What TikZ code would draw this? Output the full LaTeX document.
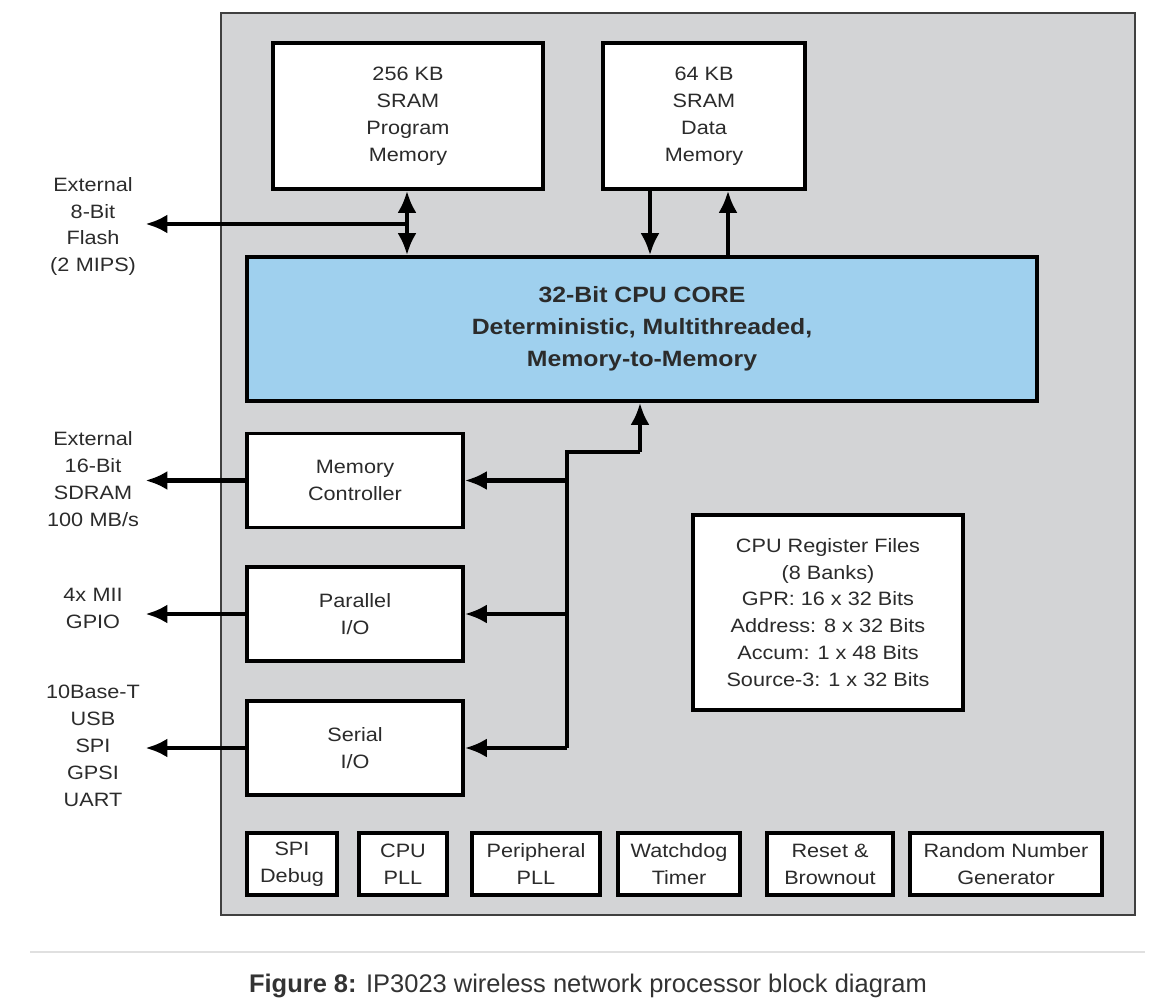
\documentclass[tikz,border=0pt]{standalone}
\usepackage{fontspec}
\setmainfont{Liberation Sans}[FakeStretch=1.12]
\newfontfamily\capfont{Liberation Sans}
\usetikzlibrary{arrows.meta}
\definecolor{panelgray}{HTML}{D3D4D6}
\definecolor{coreblue}{HTML}{9FD0EE}
\definecolor{inkgray}{HTML}{2B2B2B}
\tikzset{
  blk/.style={draw=black, line width=2pt, fill=white, align=center, inner sep=0pt,
    text=inkgray, font=\fontsize{11}{15.3}\selectfont},
  lbl/.style={align=center, text width=2.08cm, inner sep=0pt,
    text=inkgray, font=\fontsize{11}{15.3}\selectfont},
  sig/.style={line width=2.8pt, -{Latex[length=0.44cm,width=0.38cm]}},
  sigboth/.style={line width=2.8pt, {Latex[length=0.44cm,width=0.38cm]}-{Latex[length=0.44cm,width=0.38cm]}},
}
\begin{document}
\begin{tikzpicture}
      \useasboundingbox (0,0) rectangle (23.38,-20.04);
      % Chip
      \filldraw[fill=panelgray, draw=black!75, line width=1.2pt] (4.42,-0.26) rectangle (22.70,-18.30);

      % Memorias
      \node[blk, minimum width=5.40cm, minimum height=2.92cm] (pmem) at (8.16,-2.32) {256 KB\\SRAM\\Program\\Memory};
      \node[blk, minimum width=4.04cm, minimum height=2.92cm] (dmem) at (14.08,-2.32) {64 KB\\SRAM\\Data\\Memory};

      % CPU
      \node[blk, fill=coreblue, minimum width=15.80cm, minimum height=2.88cm,
            font=\bfseries\fontsize{12.6}{18.1}\selectfont] (cpu) at (12.84,-6.58)
            {32-Bit CPU CORE\\Deterministic, Multithreaded,\\Memory-to-Memory};

      % Entrada/saida
      \node[blk, minimum width=4.32cm, minimum height=1.88cm] (mc)  at (7.10,-9.61)  {Memory\\Controller};
      \node[blk, minimum width=4.32cm, minimum height=1.88cm] (pio) at (7.10,-12.28) {Parallel\\I/O};
      \node[blk, minimum width=4.32cm, minimum height=1.88cm] (sio) at (7.10,-14.96) {Serial\\I/O};

      \node[blk, minimum width=5.40cm, minimum height=3.90cm] (regs) at (16.56,-12.25)
            {CPU Register Files\\(8 Banks)\\GPR: 16 x 32 Bits\\Address: 8 x 32 Bits\\Accum: 1 x 48 Bits\\Source-3: 1 x 32 Bits};

      % Blocos de baixo
      \node[blk, minimum width=1.80cm, minimum height=1.24cm] (spi)  at (5.84,-17.28)  {SPI\\Debug};
      \node[blk, minimum width=1.76cm, minimum height=1.24cm] (cpll) at (8.06,-17.28)  {CPU\\PLL};
      \node[blk, minimum width=2.56cm, minimum height=1.24cm] (ppll) at (10.72,-17.28) {Peripheral\\PLL};
      \node[blk, minimum width=2.44cm, minimum height=1.24cm] (wdt)  at (13.58,-17.28) {Watchdog\\Timer};
      \node[blk, minimum width=2.52cm, minimum height=1.24cm] (rst)  at (16.60,-17.28) {Reset \&\\Brownout};
      \node[blk, minimum width=3.84cm, minimum height=1.24cm] (rng)  at (20.12,-17.28) {Random Number\\Generator};

      % Rotulos externos
      \node[lbl] (flash) at (1.86,-4.53)  {External\\8-Bit\\Flash\\(2 MIPS)};
      \node[lbl] (sdram) at (1.86,-9.58)  {External\\16-Bit\\SDRAM\\100 MB/s};
      \node[lbl] (mii)   at (1.86,-12.16) {4x MII\\GPIO};
      \node[lbl] (ser)   at (1.86,-14.92) {10Base-T\\USB\\SPI\\GPSI\\UART};

      % Ligacoes das memorias
      \coordinate (pbus) at (8.14,-4.48);
      \coordinate (dnx)  at (13.00,0);
      \coordinate (upx)  at (14.56,0);
      \draw[sigboth] (pmem.south -| pbus) -- (cpu.north -| pbus);
      \draw[sig] (pbus) -- (flash.east |- pbus);
      \draw[sig, line width=2.3pt] (dmem.south -| dnx) -- (cpu.north -| dnx);
      \draw[sig, line width=2.3pt] (cpu.north -| upx) -- (dmem.south -| upx);

      % Barramento
      \coordinate (cpuin) at (12.80,-9.04);
      \coordinate (bus)   at (11.34,-9.04);
      \draw[sig] (cpuin) -- (cpu.south -| cpuin);
      \draw[line width=2.8pt] (cpuin) -- (bus) -- (bus |- sio.east);
      \foreach \n in {mc,pio,sio}
        \draw[sig] (bus |- \n.east) -- (\n.east);

      \draw[sig] (mc.west)  -- (sdram.east |- mc.west);
      \draw[sig] (pio.west) -- (mii.east |- pio.west);
      \draw[sig] (sio.west) -- (ser.east |- sio.west);

      % Legenda
      \draw[line width=1.5pt, black!12] (0.60,-19.04) -- (22.90,-19.04);
      \node[font=\capfont\fontsize{14.5}{17}\selectfont, text=black!80] (cap) at (11.76,-19.72)
            {\textbf{Figure 8:} IP3023 wireless network processor block diagram};

    \end{tikzpicture}
\end{document}
